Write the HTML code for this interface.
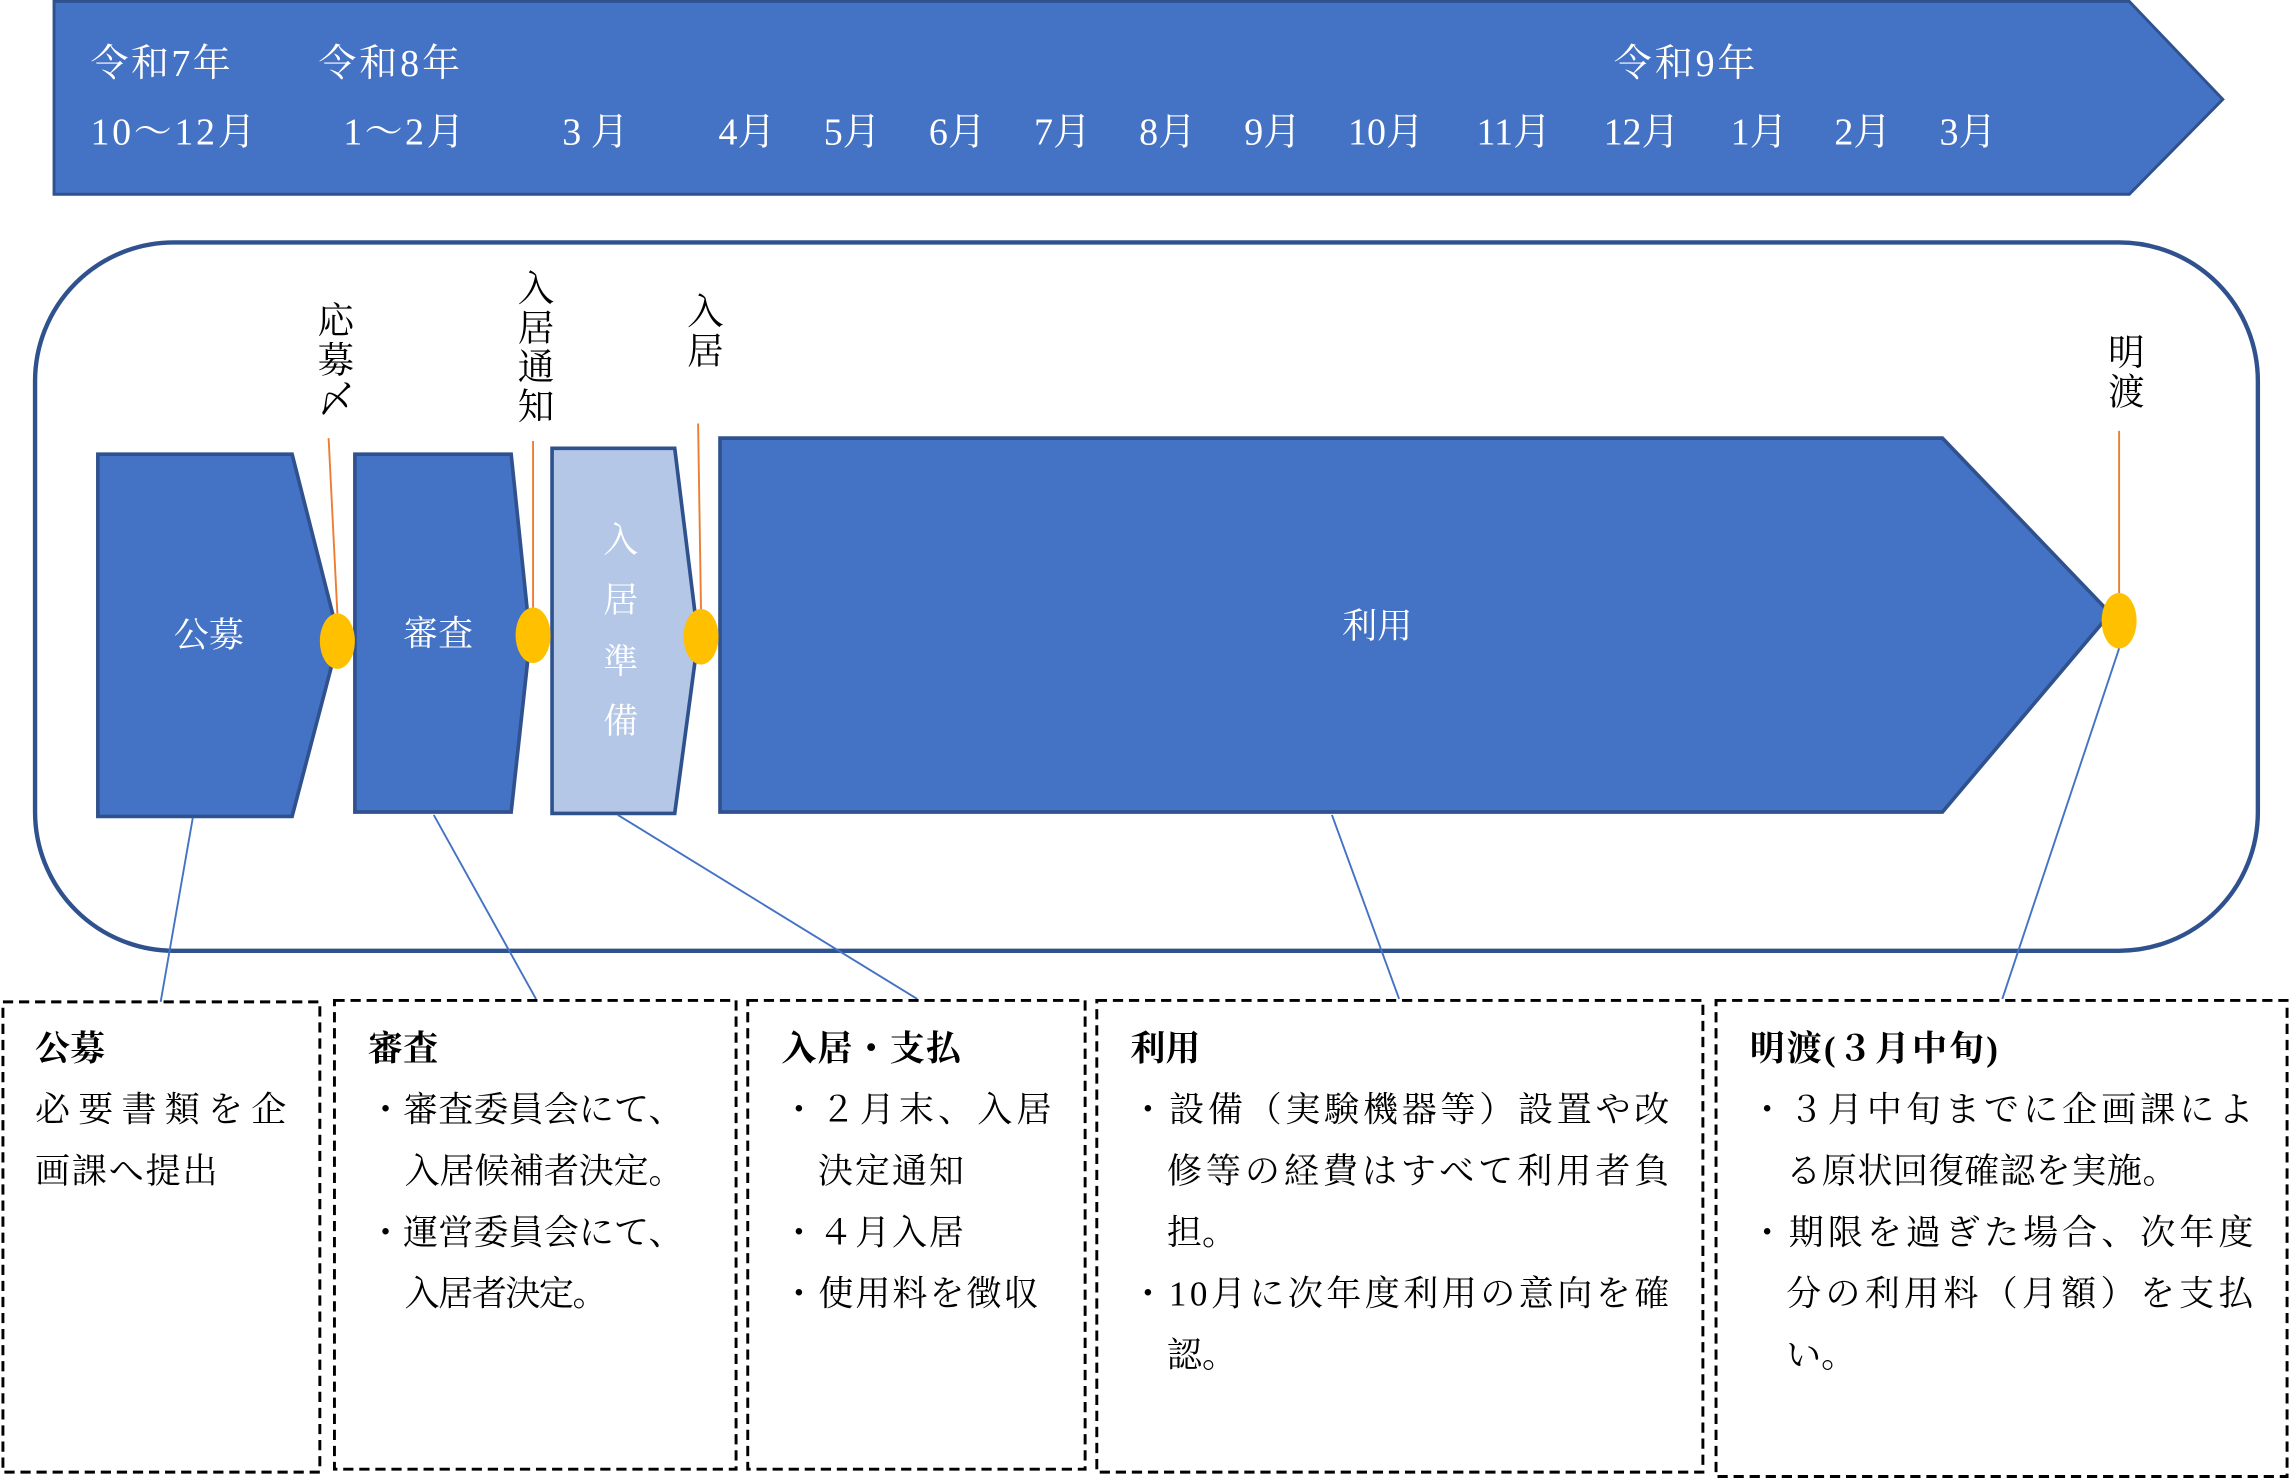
<!DOCTYPE html>
<html><head><meta charset="utf-8"><style>
html,body{margin:0;padding:0;background:#fff;}
svg{display:block;}
text{font-family:"Liberation Serif","Noto Serif CJK SC","Noto Sans CJK JP",serif;}
</style></head><body>
<svg width="2290" height="1479" viewBox="0 0 1568 1012.7" xmlns="http://www.w3.org/2000/svg">
<rect width="1568" height="1013" fill="#fff"/>
<polygon points="37,1 1458,1 1522,68 1458,133 37,133" fill="#4472C4" stroke="#2F528F" stroke-width="2"/>
<g fill="#fff" font-size="26">
<text x="62" y="52" textLength="96">令和7年</text>
<text x="218" y="52" textLength="97">令和8年</text>
<text x="1105" y="52" textLength="97">令和9年</text>
<text x="62" y="99" textLength="113">10～12月</text>
<text x="235" y="99" textLength="83">1～2月</text>
<text x="385" y="99">3 月</text>
<text x="492" y="99">4月</text>
<text x="564" y="99">5月</text>
<text x="636" y="99">6月</text>
<text x="708" y="99">7月</text>
<text x="780" y="99">8月</text>
<text x="852" y="99">9月</text>
<text x="923" y="99">10月</text>
<text x="1011" y="99">11月</text>
<text x="1098" y="99">12月</text>
<text x="1185" y="99">1月</text>
<text x="1256" y="99">2月</text>
<text x="1328" y="99">3月</text>
</g>
<rect x="24" y="166" width="1522" height="485" rx="95" ry="95" fill="none" stroke="#2F528F" stroke-width="3"/>
<g stroke="#2F528F" stroke-width="2.5">
<polygon points="67,311 200,311 232,437 200,559 67,559" fill="#4472C4"/>
<polygon points="243,311 350,311 363,437 350,556 243,556" fill="#4472C4"/>
<polygon points="378,307 462,307 478,437 462,557 378,557" fill="#B4C7E7"/>
<polygon points="493,300 1330,300 1445,420 1330,556 493,556" fill="#4472C4"/>
</g>
<g fill="#fff" font-size="24">
<text x="143" y="443" text-anchor="middle">公募</text>
<text x="300" y="442" text-anchor="middle">審査</text>
<text x="943" y="437" text-anchor="middle">利用</text>
<text x="425" y="378" text-anchor="middle">入</text>
<text x="425" y="419" text-anchor="middle">居</text>
<text x="425" y="461" text-anchor="middle">準</text>
<text x="425" y="502" text-anchor="middle">備</text>
</g>
<g stroke="#ED7D31" stroke-width="1.3">
<line x1="225" y1="300" x2="231" y2="420"/>
<line x1="365" y1="302" x2="365" y2="416"/>
<line x1="478" y1="290" x2="480" y2="418"/>
<line x1="1451" y1="295" x2="1451" y2="406"/>
</g>
<g fill="#FFC000">
<ellipse cx="231" cy="439" rx="12" ry="19"/>
<ellipse cx="365" cy="435" rx="12" ry="19"/>
<ellipse cx="480" cy="436" rx="12" ry="19"/>
<ellipse cx="1451" cy="425" rx="12" ry="19"/>
</g>
<g fill="#000" font-size="25" text-anchor="middle">
<text x="230" y="228">応</text><text x="230" y="255">募</text><text x="230" y="282">〆</text>
<text x="367" y="206">入</text><text x="367" y="233">居</text><text x="367" y="260">通</text><text x="367" y="287">知</text>
<text x="483" y="222">入</text><text x="483" y="249">居</text>
<text x="1456" y="250">明</text><text x="1456" y="277">渡</text>
</g>
<g stroke="#4472C4" stroke-width="1.3">
<line x1="132" y1="560" x2="110" y2="686"/>
<line x1="297" y1="558" x2="367" y2="684"/>
<line x1="423" y1="558" x2="628" y2="684"/>
<line x1="912" y1="558" x2="958" y2="684"/>
<line x1="1451" y1="444" x2="1371" y2="684"/>
</g>
<g fill="none" stroke="#000" stroke-width="2" stroke-dasharray="7,4">
<rect x="2" y="686" width="217" height="322"/>
<rect x="229" y="685" width="275" height="321"/>
<rect x="512" y="685" width="231" height="321"/>
<rect x="751" y="685" width="415" height="323"/>
<rect x="1175" y="685" width="391" height="326"/>
</g>
<g fill="#000" font-size="24">
<text x="24" y="726" font-weight="bold">公募</text>
<text x="24" y="768" textLength="172">必要書類を企</text>
<text x="24" y="810" textLength="125">画課へ提出</text>

<text x="252" y="726" font-weight="bold">審査</text>
<text x="252" y="768" textLength="216">・審査委員会にて、</text>
<text x="277" y="810" textLength="191">入居候補者決定。</text>
<text x="252" y="852" textLength="216">・運営委員会にて、</text>
<text x="277" y="894" textLength="139">入居者決定。</text>

<text x="535" y="726" font-weight="bold" textLength="123">入居・支払</text>
<text x="535" y="768" textLength="185">・２月末、入居</text>
<text x="560" y="810" textLength="100">決定通知</text>
<text x="535" y="852" textLength="125">・４月入居</text>
<text x="535" y="894" textLength="176">・使用料を徴収</text>

<text x="774" y="726" font-weight="bold">利用</text>
<text x="774" y="768" textLength="369">・設備（実験機器等）設置や改</text>
<text x="799" y="810" textLength="344">修等の経費はすべて利用者負</text>
<text x="799" y="852">担。</text>
<text x="774" y="894" textLength="369">・10月に次年度利用の意向を確</text>
<text x="799" y="936">認。</text>

<text x="1198" y="726" font-weight="bold" textLength="170">明渡(３月中旬)</text>
<text x="1198" y="768" textLength="345">・３月中旬までに企画課によ</text>
<text x="1223" y="810" textLength="268">る原状回復確認を実施。</text>
<text x="1198" y="852" textLength="345">・期限を過ぎた場合、次年度</text>
<text x="1223" y="894" textLength="320">分の利用料（月額）を支払</text>
<text x="1223" y="936">い。</text>
</g>
</svg>
</body></html>
